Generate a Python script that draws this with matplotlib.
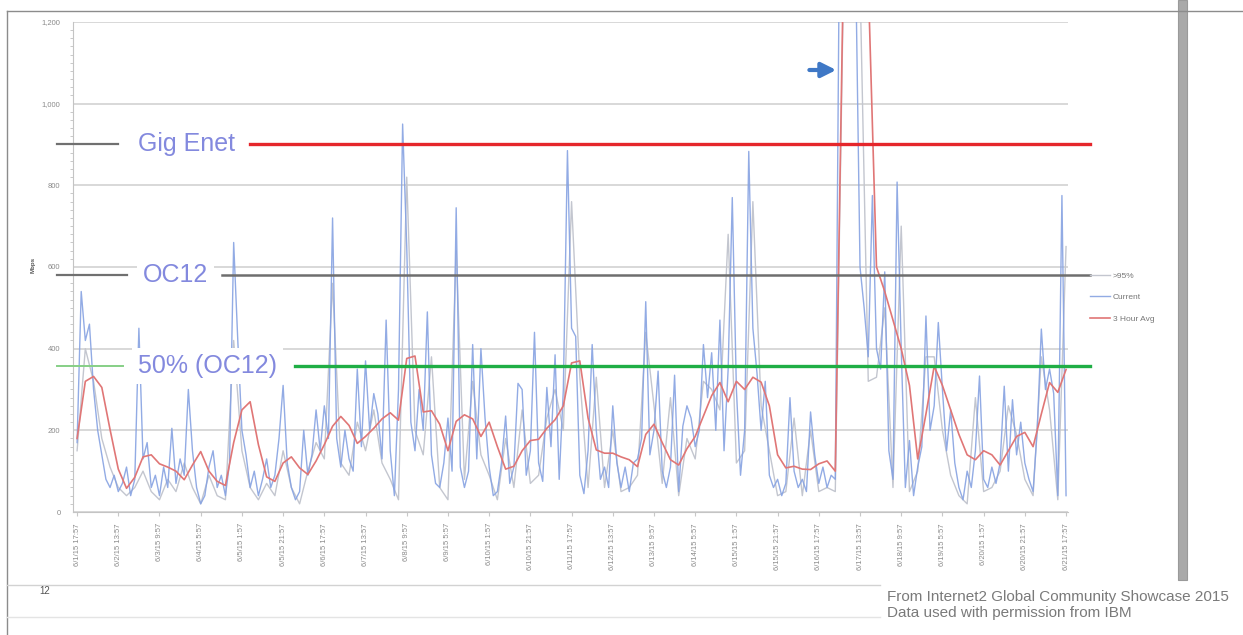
#!/usr/bin/env python
"""
Replot of the Internet2 link utilisation chart (Mbps, June 2015).
"""
import numpy as np
import matplotlib.pyplot as plt
from matplotlib.patches import Rectangle
from matplotlib.lines import Line2D
from matplotlib.ticker import MultipleLocator

plt.rcParams["font.family"] = ["Liberation Sans", "DejaVu Sans"]

# Values (Mbps)
# "Current", one sample every 2 hours
current = [170, 540, 420, 460, 300, 200, 140, 80, 60, 90,
           50, 70, 110, 40, 80, 450, 130, 170, 60, 90,
           40, 110, 60, 205, 70, 130, 90, 300, 150, 60,
           20, 40, 110, 150, 60, 90, 40, 120, 660, 420,
           200, 140, 60, 100, 40, 80, 130, 60, 90, 180,
           310, 120, 60, 30, 50, 200, 90, 140, 250, 150,
           260, 180, 720, 180, 110, 200, 130, 100, 350, 160,
           370, 200, 290, 240, 130, 470, 150, 40, 300, 950,
           650, 220, 150, 300, 200, 490, 140, 70, 60, 120,
           230, 100, 745, 110, 60, 100, 410, 130, 400, 230,
           110, 40, 50, 120, 235, 70, 110, 315, 300, 90,
           150, 440, 120, 75, 305, 160, 385, 80, 300, 885,
           450, 430, 90, 45, 150, 410, 200, 80, 110, 60,
           260, 120, 60, 110, 50, 120, 130, 180, 515, 140,
           200, 345, 100, 60, 110, 335, 50, 210, 260, 230,
           160, 200, 410, 280, 390, 200, 470, 150, 350, 770,
           300, 90, 200, 883, 450, 340, 200, 320, 90, 60,
           80, 40, 70, 280, 100, 60, 80, 50, 245, 140,
           70, 110, 60, 90, 80, 1400, 1500, 1450, 1400, 1300,
           600, 500, 380, 775, 400, 350, 588, 150, 80, 808,
           400, 60, 175, 40, 110, 160, 480, 200, 260, 464,
           300, 150, 250, 120, 60, 30, 100, 60, 150, 333,
           80, 60, 110, 70, 120, 308, 100, 275, 140, 220,
           120, 80, 50, 200, 448, 300, 350, 290, 40, 775, 40]

# ">95%", one sample every 4 hours
above95 = [150, 400, 320, 180, 110, 60, 40, 60, 100, 50,
           30, 80, 50, 120, 60, 20, 90, 40, 30, 420,
           150, 60, 30, 70, 40, 150, 60, 20, 100, 170,
           130, 560, 120, 90, 220, 150, 250, 120, 80, 30,
           820, 200, 140, 380, 60, 30, 640, 80, 320, 140,
           90, 30, 180, 60, 250, 70, 90, 230, 300, 200,
           760, 330, 60, 330, 60, 200, 50, 60, 90, 440,
           260, 70, 280, 40, 180, 130, 320, 300, 250, 680,
           120, 150, 760, 260, 150, 40, 50, 230, 40, 200,
           50, 60, 50, 1300, 1300, 1300, 320, 330, 500, 60,
           700, 50, 100, 380, 380, 200, 90, 40, 20, 280,
           50, 60, 100, 260, 190, 80, 40, 380, 250, 30, 650]

# "3 Hour Avg", one sample every 4 hours
avg_3h = [180, 320, 332, 305, 202, 105, 58, 85, 135, 140,
          118, 110, 100, 79, 115, 148, 100, 75, 65, 170,
          250, 270, 165, 86, 75, 120, 135, 108, 92, 125,
          165, 210, 234, 212, 168, 185, 205, 228, 243, 225,
          376, 382, 245, 248, 215, 150, 222, 238, 228, 185,
          220, 160, 105, 112, 150, 175, 178, 205, 226, 260,
          365, 370, 230, 152, 144, 144, 135, 128, 111, 190,
          215, 170, 128, 115, 155, 185, 235, 285, 317, 270,
          320, 300, 330, 318, 260, 140, 108, 112, 105, 104,
          118, 125, 100, 1350, 1500, 1450, 1300, 600, 540, 470,
          400, 310, 130, 240, 357, 310, 250, 190, 140, 128,
          150, 140, 115, 150, 185, 195, 160, 240, 317, 293, 349]

tick_labels = ["6/1/15 17:57", "6/2/15 13:57", "6/3/15 9:57", "6/4/15 5:57",
               "6/5/15 1:57", "6/5/15 21:57", "6/6/15 17:57", "6/7/15 13:57",
               "6/8/15 9:57", "6/9/15 5:57", "6/10/15 1:57", "6/10/15 21:57",
               "6/11/15 17:57", "6/12/15 13:57", "6/13/15 9:57", "6/14/15 5:57",
               "6/15/15 1:57", "6/15/15 21:57", "6/16/15 17:57", "6/17/15 13:57",
               "6/18/15 9:57", "6/19/15 5:57", "6/20/15 1:57", "6/20/15 21:57",
               "6/21/15 17:57"]
tick_hours = [0, 20, 40, 60, 80, 100, 120, 140, 160, 180, 200, 220, 240,
              260, 280, 300, 320, 340, 360, 380, 400, 420, 440, 460, 480]

y_ticks = [0, 200, 400, 600, 800, 1000, 1200]
y_tick_labels = ["0", "200", "400", "600", "800", "1,000", "1,200"]

level_names = ["Gig Enet", "OC12", "50% (OC12)"]
level_values = [900, 580, 358]


def draw_levels(ax):
    """Reference lines with their big labels, x in axes fraction."""
    trans = ax.get_yaxis_transform()
    layout = {
        "Gig Enet": dict(left=(-0.016, 0.045), right=(0.178, 1.022),
                         text_x=0.114, lc="#707070", rc="#e5262b",
                         lw_l=1.6, lw_r=2.4),
        "OC12": dict(left=(-0.016, 0.054), right=(0.150, 1.022),
                     text_x=0.103, lc="#707070", rc="#6e6e6e",
                     lw_l=1.6, lw_r=1.8),
        "50% (OC12)": dict(left=(-0.016, 0.050), right=(0.223, 1.022),
                           text_x=0.135, lc="#86cf86", rc="#1fae45",
                           lw_l=1.4, lw_r=2.4),
    }
    for name, value in zip(level_names, level_values):
        lay = layout[name]
        ax.plot(lay["left"], [value, value], color=lay["lc"], lw=lay["lw_l"],
                transform=trans, clip_on=False, zorder=5)
        ax.plot(lay["right"], [value, value], color=lay["rc"], lw=lay["lw_r"],
                transform=trans, clip_on=False, zorder=5)
        ax.text(lay["text_x"], value, name, transform=trans, ha="center",
                va="center", fontsize=18, color="#8389de", zorder=6,
                bbox=dict(boxstyle="square,pad=0.25", fc="white", ec="none"))


def main():
    fig = plt.figure(figsize=(12.43, 6.35), dpi=100)
    fig.patch.set_facecolor("white")
    ax = fig.add_axes([0.0587, 0.1937, 0.8006, 0.7717])

    h2 = np.arange(len(current)) * 2
    h4 = np.arange(len(avg_3h)) * 4

    l95, = ax.plot(h4, above95, color="#c3c6cf", lw=1.0, zorder=2)
    lcur, = ax.plot(h2, current, color="#86a2e2", lw=1.0, alpha=0.9, zorder=3)
    lavg, = ax.plot(h4, avg_3h, color="#e07676", lw=1.2, zorder=4)

    ax.set_xlim(-2, 481)
    ax.set_ylim(0, 1200)
    ax.set_yticks(y_ticks)
    ax.set_yticklabels(y_tick_labels)
    ax.yaxis.set_minor_locator(MultipleLocator(20))
    ax.set_xticks(tick_hours)
    ax.set_xticklabels(tick_labels, rotation=90, va="top", ha="center")
    ax.tick_params(axis="y", which="major", length=0, pad=9, labelsize=5.5,
                   labelcolor="#8a8a8a")
    ax.tick_params(axis="y", which="minor", length=2, color="#c0c0c0")
    ax.tick_params(axis="x", length=3, color="#c8c8c8", pad=5, labelsize=5.5,
                   labelcolor="#8a8a8a")
    ax.grid(axis="y", color="#d6d6d6", lw=1.3)
    ax.set_axisbelow(True)
    for side in ["top", "right"]:
        ax.spines[side].set_visible(False)
    for side in ["left", "bottom"]:
        ax.spines[side].set_color("#c4c4c4")
    ax.text(-0.040, 0.505, "Mbps", transform=ax.transAxes, rotation=90,
            ha="center", va="center", fontsize=4.5, fontweight="bold",
            color="#555555")

    draw_levels(ax)

    # the blue arrow pointing at the outage spike
    ax.annotate("", xy=(0.767, 0.902), xytext=(0.740, 0.902),
                xycoords="axes fraction",
                arrowprops=dict(arrowstyle="-|>", lw=3.0, color="#3f78c6",
                                mutation_scale=22, shrinkA=0, shrinkB=0))

    fig.legend([l95, lcur, lavg], [">95%", "Current", "3 Hour Avg"],
               loc="upper left", bbox_to_anchor=(0.877, 0.571),
               frameon=False, fontsize=6, handlelength=2.4,
               labelspacing=1.6, handletextpad=0.3, borderpad=0,
               borderaxespad=0, labelcolor="#777777")

    # slide furniture around the chart
    fig.add_artist(Line2D([0.0056, 1.0], [0.9827, 0.9827], color="#8c8c8c",
                          lw=1.0))
    fig.add_artist(Line2D([0.0056, 0.0056], [0.0, 0.9827], color="#8c8c8c",
                          lw=1.0))
    fig.add_artist(Line2D([0.0056, 0.708], [0.0787, 0.0787], color="#d2d2d2",
                          lw=1.0))
    fig.add_artist(Line2D([0.0056, 0.708], [0.0283, 0.0283], color="#e4e4e4",
                          lw=1.0))
    fig.add_artist(Rectangle((0.9475, 0.0866), 0.0075, 0.9134,
                             transform=fig.transFigure, fc="#a9a9a9",
                             ec="#9a9a9a", lw=0.8))
    fig.text(0.0362, 0.0693, "12", fontsize=7, color="#555555",
             ha="center", va="center")
    fig.text(0.7136, 0.0598, "From Internet2 Global Community Showcase 2015",
             fontsize=11.0, color="#7a7a7a", ha="left", va="center")
    fig.text(0.7136, 0.0346, "Data used with permission from IBM",
             fontsize=11.0, color="#7a7a7a", ha="left", va="center")

    fig.savefig("out.png", dpi=100, facecolor="white")


if __name__ == "__main__":
    main()
